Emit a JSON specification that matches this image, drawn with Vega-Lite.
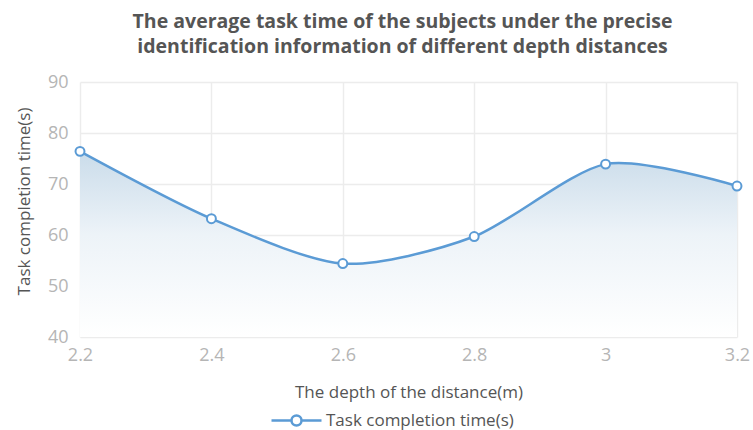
{
  "$schema": "https://vega.github.io/schema/vega-lite/v6.json",
  "width": 657,
  "height": 255,
  "autosize": {"type": "none"},
  "padding": {"left": 80, "top": 82, "right": 16, "bottom": 93},
  "title": {
    "text": ["The average task time of the subjects under the precise", "identification information of different depth distances"],
    "font": "Open Sans",
    "fontSize": 19.5,
    "fontWeight": "bold",
    "color": "#555555",
    "anchor": "middle",
    "frame": "group",
    "dx": -6,
    "offset": 16,
    "lineHeight": 25
  },
  "config": {
    "view": {"stroke": null},
    "font": "Open Sans",
    "axis": {
      "grid": true,
      "gridColor": "#ececec",
      "gridWidth": 1.5,
      "domain": false,
      "ticks": false,
      "labelColor": "#b5b5b5",
      "labelFontSize": 18,
      "labelFlush": false,
      "labelOverlap": false,
      "titleColor": "#555555",
      "titleFontSize": 17,
      "titleFontWeight": "normal"
    }
  },
  "data": {
    "values": [
      {"depth": 2.2, "time": 76.4, "series": "Task completion time(s)"},
      {"depth": 2.4, "time": 63.2, "series": "Task completion time(s)"},
      {"depth": 2.6, "time": 54.4, "series": "Task completion time(s)"},
      {"depth": 2.8, "time": 59.7, "series": "Task completion time(s)"},
      {"depth": 3.0, "time": 73.9, "series": "Task completion time(s)"},
      {"depth": 3.2, "time": 69.6, "series": "Task completion time(s)"}
    ]
  },
  "encoding": {
    "x": {
      "field": "depth",
      "type": "quantitative",
      "scale": {"domain": [2.2, 3.2], "nice": false, "zero": false},
      "axis": {
        "values": [2.2, 2.4, 2.6, 2.8, 3.0, 3.2],
        "format": "~g",
        "labelPadding": 9,
        "titlePadding": 20,
        "title": "The depth of the distance(m)"
      }
    },
    "y": {
      "field": "time",
      "type": "quantitative",
      "scale": {"domain": [40, 90], "nice": false, "zero": false},
      "axis": {
        "values": [40, 50, 60, 70, 80, 90],
        "labelPadding": 12,
        "titlePadding": 14,
        "titleY": 119,
        "title": "Task completion time(s)"
      }
    }
  },
  "layer": [
    {
      "mark": {
        "type": "area",
        "interpolate": "cardinal",
        "tension": 0.2,
        "fill": {
          "gradient": "linear",
          "x1": 0, "y1": 0, "x2": 0, "y2": 1,
          "stops": [
            {"offset": 0, "color": "#cadcea"},
            {"offset": 0.45, "color": "#edf3f8"},
            {"offset": 1, "color": "#ffffff"}
          ]
        }
      },
      "encoding": {"y2": {"datum": 40}}
    },
    {
      "mark": {
        "type": "line",
        "interpolate": "cardinal",
        "tension": 0.2,
        "strokeWidth": 2.5
      },
      "encoding": {
        "color": {
          "field": "series",
          "type": "nominal",
          "scale": {"range": ["#5b9bd5"]},
          "legend": {
            "title": null,
            "orient": "none",
            "legendX": 190,
            "legendY": 312,
            "symbolType": "M-1,0H-0.2M0.2,0H1M0.2,0A0.2,0.2 0 1,1 -0.2,0A0.2,0.2 0 1,1 0.2,0",
            "symbolSize": 2500,
            "symbolStrokeWidth": 2.5,
            "symbolFillColor": "#ffffff",
            "labelFontSize": 17,
            "labelLimit": 400,
            "labelColor": "#555555",
            "labelOffset": 3
          }
        }
      }
    },
    {
      "mark": {
        "type": "point",
        "shape": "circle",
        "filled": true,
        "fill": "#ffffff",
        "stroke": "#5b9bd5",
        "strokeWidth": 2,
        "size": 80,
        "opacity": 1
      }
    }
  ]
}
